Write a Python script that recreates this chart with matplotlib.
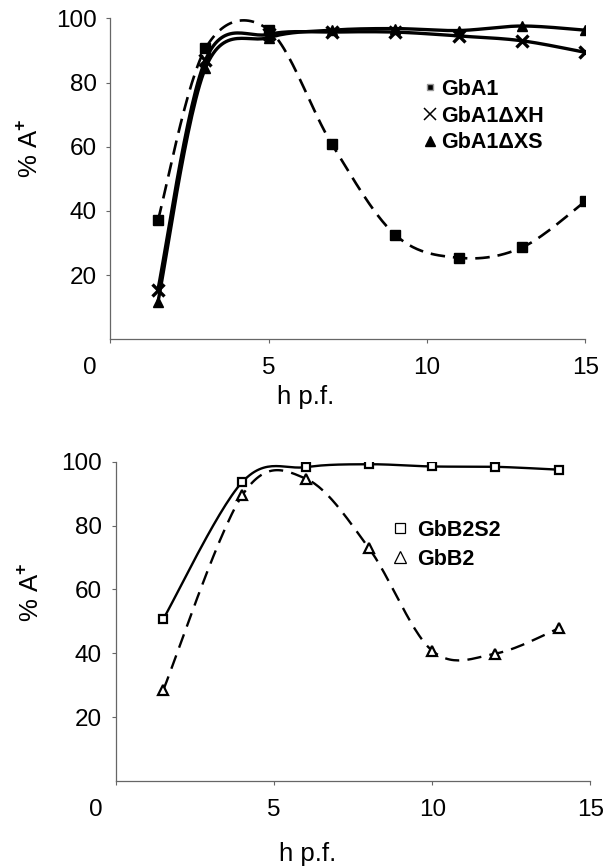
import numpy as np
import matplotlib
matplotlib.use('Agg')
import matplotlib.pyplot as plt
from matplotlib.lines import Line2D
from matplotlib.transforms import ScaledTranslation

# top panel: GbA1 constructs
top_hpf = [1.5, 3, 5, 7, 9, 11, 13, 15]
gba1 = [37.1, 90.6, 96.4, 60.7, 32.5, 25.4, 28.6, 43.0]
gba1_dxh = [15.5, 87.0, 95.0, 95.7, 95.7, 94.5, 93.0, 89.4]
gba1_dxs = [11.6, 84.5, 94.0, 96.3, 96.8, 96.2, 97.6, 96.3]

# bottom panel: GbB2 constructs
bot_hpf = [1.5, 4, 6, 8, 10, 12, 14]
gbb2s2 = [50.8, 93.7, 98.3, 99.2, 98.5, 98.4, 97.5]
gbb2 = [28.6, 89.6, 94.7, 72.9, 40.8, 39.9, 47.8]

x_ticks = [0, 5, 10, 15]
y_ticks = [20, 40, 60, 80, 100]

plt.rcParams['font.family'] = ['Liberation Sans', 'DejaVu Sans']
plt.rcParams['mathtext.fontset'] = 'custom'
plt.rcParams['mathtext.rm'] = 'Liberation Sans'
plt.rcParams['mathtext.bf'] = 'Liberation Sans:bold'

AXIS_GRAY = '#666666'


def smooth(xs, ys, n=30):
    """Excel style smoothed line (cubic bezier, catmull-rom control points)."""
    p = np.column_stack([xs, ys]).astype(float)
    out = [p[0]]
    t = np.linspace(0, 1, n)[1:, None]
    for i in range(len(p) - 1):
        p0 = p[i - 1] if i > 0 else p[i]
        p1, p2 = p[i], p[i + 1]
        p3 = p[i + 2] if i + 2 < len(p) else p[i + 1]
        c1 = p1 + (p2 - p0) / 6.0
        c2 = p2 - (p3 - p1) / 6.0
        seg = ((1 - t) ** 3 * p1 + 3 * (1 - t) ** 2 * t * c1
               + 3 * (1 - t) * t ** 2 * c2 + t ** 3 * p2)
        out.extend(seg)
    out = np.array(out)
    return out[:, 0], out[:, 1]


def style_axes(ax, fig):
    ax.set_xlim(0, 15)
    ax.set_ylim(0, 100)
    for s in ['top', 'right']:
        ax.spines[s].set_visible(False)
    for s in ['left', 'bottom']:
        ax.spines[s].set_color(AXIS_GRAY)
        ax.spines[s].set_linewidth(0.9)
    ax.set_xticks(x_ticks)
    ax.set_xticklabels([str(v) for v in x_ticks])
    ax.set_yticks(y_ticks)
    ax.set_yticklabels([str(v) for v in y_ticks])
    ax.tick_params(axis='both', direction='out', length=3, width=0.8,
                   color=AXIS_GRAY, labelsize=17.5)
    ax.tick_params(axis='x', pad=10)
    ax.tick_params(axis='y', pad=7)
    # the "0" label sits left of the origin in the original
    lab0 = ax.xaxis.get_major_ticks()[0].label1
    lab0.set_transform(lab0.get_transform()
                       + ScaledTranslation(-0.205, 0, fig.dpi_scale_trans))
    ax.set_ylabel('% A$^{\\mathbf{+}}$', fontsize=18.5)
    ax.set_xlabel('h p.f.', fontsize=18.5)


fig = plt.figure(figsize=(6.06, 8.68), dpi=100)
ax1 = fig.add_axes([0.1823, 0.6091, 0.7835, 0.3698])
ax2 = fig.add_axes([0.1914, 0.1002, 0.7827, 0.3679])

# ---- top panel
sx, sy = smooth(top_hpf, gba1)
ax1.plot(sx, sy, color='black', lw=1.9, ls=(0, (5.5, 3)))
sx, sy = smooth(top_hpf, gba1_dxh)
ax1.plot(sx, sy, color='black', lw=2.4)
sx, sy = smooth(top_hpf, gba1_dxs)
ax1.plot(sx, sy, color='black', lw=2.4)
ax1.plot(top_hpf, gba1, ls='none', marker='s', ms=6.5, color='black',
         zorder=5)
ax1.plot(top_hpf, gba1_dxh, ls='none', marker='x', ms=8.5, mew=2.4,
         color='black', zorder=5)
ax1.plot(top_hpf, gba1_dxs, ls='none', marker='^', ms=7.5, color='black',
         zorder=5)

h_top = [
    Line2D([], [], ls='none', marker='s', ms=5, mfc='black', mec='#999999',
           mew=1.0),
    Line2D([], [], ls='none', marker='x', ms=8, mew=1.1, color='black'),
    Line2D([], [], ls='none', marker='^', ms=7.5, color='black'),
]
ax1.legend(h_top, ['GbA1', 'GbA1\u0394XH', 'GbA1\u0394XS'],
           loc='upper left', bbox_to_anchor=(0.661, 0.811), frameon=False,
           borderpad=0, borderaxespad=0, handlelength=0.5,
           handletextpad=0.28, labelspacing=0.26,
           prop={'weight': 'bold', 'size': 15.5})
style_axes(ax1, fig)
ax1.yaxis.set_label_coords(-0.144, 0.596)
ax1.xaxis.set_label_coords(0.412, -0.142)

# ---- bottom panel
sx, sy = smooth(bot_hpf, gbb2s2)
ax2.plot(sx, sy, color='black', lw=1.7)
sx, sy = smooth(bot_hpf, gbb2)
ax2.plot(sx, sy, color='black', lw=1.7, ls=(0, (6, 3.5)))
ax2.plot(bot_hpf, gbb2s2, ls='none', marker='s', ms=6, mfc='white',
         mec='black', mew=1.6, zorder=5)
ax2.plot(bot_hpf, gbb2, ls='none', marker='^', ms=7.5, mfc='white',
         mec='black', mew=1.6, zorder=5)

h_bot = [
    Line2D([], [], ls='none', marker='s', ms=7, mfc='white', mec='black',
           mew=0.9),
    Line2D([], [], ls='none', marker='^', ms=8, mfc='white', mec='black',
           mew=0.9),
]
ax2.legend(h_bot, ['GbB2S2', 'GbB2'],
           loc='upper left', bbox_to_anchor=(0.583, 0.818), frameon=False,
           borderpad=0, borderaxespad=0, handlelength=0.7,
           handletextpad=0.44, labelspacing=0.38,
           prop={'weight': 'bold', 'size': 15.5})
style_axes(ax2, fig)
ax2.yaxis.set_label_coords(-0.154, 0.592)
ax2.xaxis.set_label_coords(0.405, -0.191)

fig.savefig('out.png', dpi=100)
